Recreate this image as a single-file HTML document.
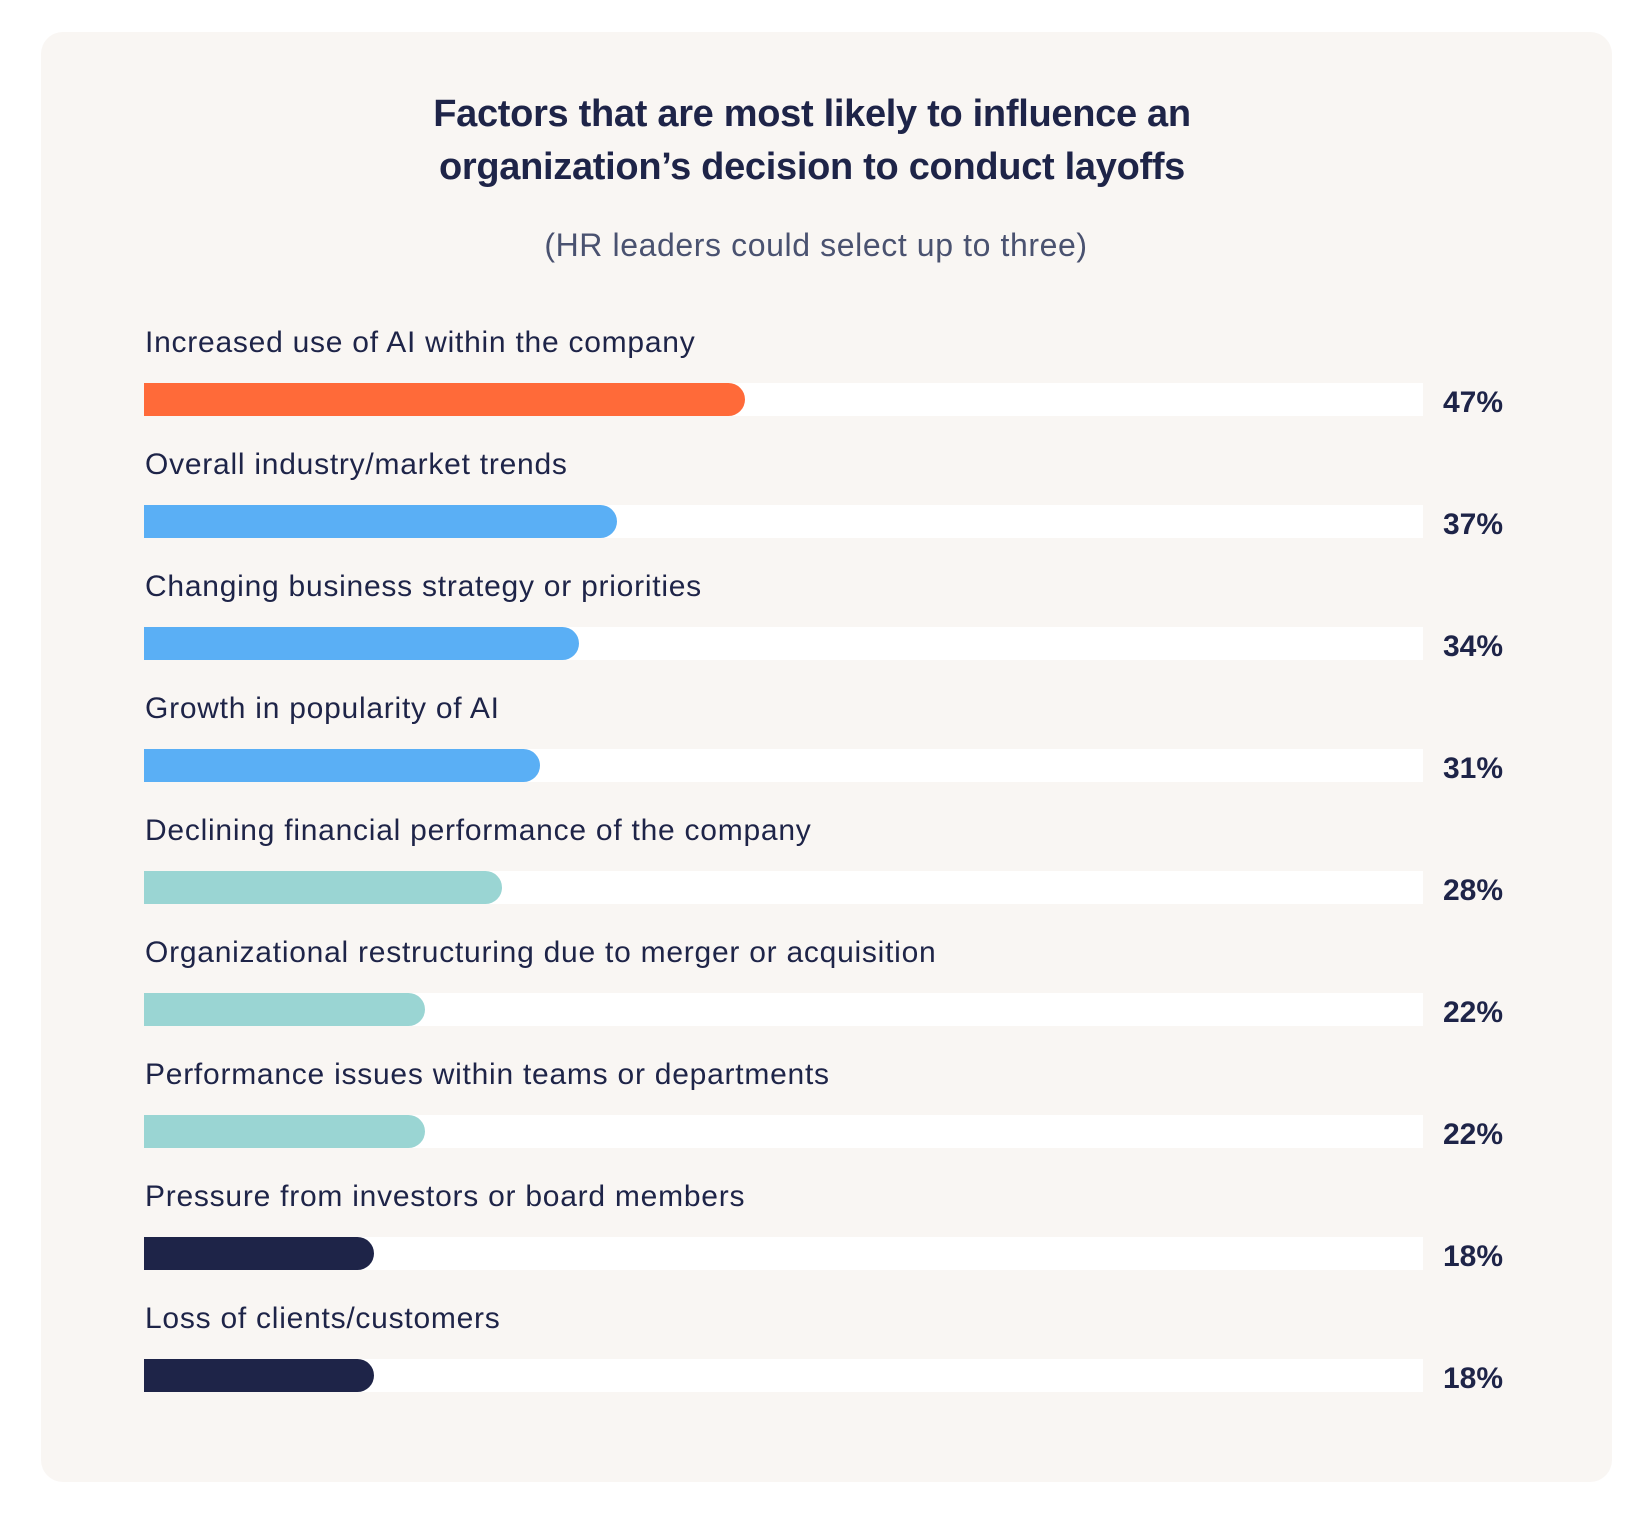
<!DOCTYPE html>
<html><head><meta charset="utf-8"><style>
body{margin:0;width:1648px;height:1525px;background:#fff;font-family:"Liberation Sans",sans-serif;color:#1E2448;position:relative;overflow:hidden}
.card{position:absolute;left:41px;top:32px;width:1571px;height:1450px;background:#F9F6F3;border-radius:22px}
.t{position:absolute;left:0;width:1624px;text-align:center;font-weight:bold;font-size:38px;letter-spacing:-0.3px}
.s{position:absolute;left:0;width:1632px;text-align:center;font-size:32px;letter-spacing:0.6px;color:#4A5270}
.lab{position:absolute;left:145px;font-size:30px;letter-spacing:0.75px;white-space:nowrap}
.track{position:absolute;left:144px;width:1279px;height:33px;background:#fff}
.bar{position:absolute;left:0;top:0;height:33px;border-radius:0 17px 17px 0}
.p{position:absolute;left:1443px;font-weight:bold;font-size:30px}
</style></head><body>
<div class="card"></div>
<div class="t" style="top:93px">Factors that are most likely to influence an</div>
<div class="t" style="top:146px">organization’s decision to conduct layoffs</div>
<div class="s" style="top:227px">(HR leaders could select up to three)</div>
<div id="rows"></div>
<script>
var d=[["Increased use of AI within the company",47,"#FF6A39"],["Overall industry/market trends",37,"#5AAFF5"],["Changing business strategy or priorities",34,"#5AAFF5"],["Growth in popularity of AI",31,"#5AAFF5"],["Declining financial performance of the company",28,"#9AD5D3"],["Organizational restructuring due to merger or acquisition",22,"#9AD5D3"],["Performance issues within teams or departments",22,"#9AD5D3"],["Pressure from investors or board members",18,"#1E2448"],["Loss of clients/customers",18,"#1E2448"]];
var h="";
d.forEach(function(r,i){var y=383+i*122;
h+='<div class="lab" style="top:'+(y-57)+'px">'+r[0]+'</div>';
h+='<div class="track" style="top:'+y+'px"><div class="bar" style="width:'+(r[1]*12.79)+'px;background:'+r[2]+'"></div></div>';
h+='<div class="p" style="top:'+(y+3)+'px">'+r[1]+'%</div>';});
document.getElementById("rows").innerHTML=h;
</script>
</body></html>
